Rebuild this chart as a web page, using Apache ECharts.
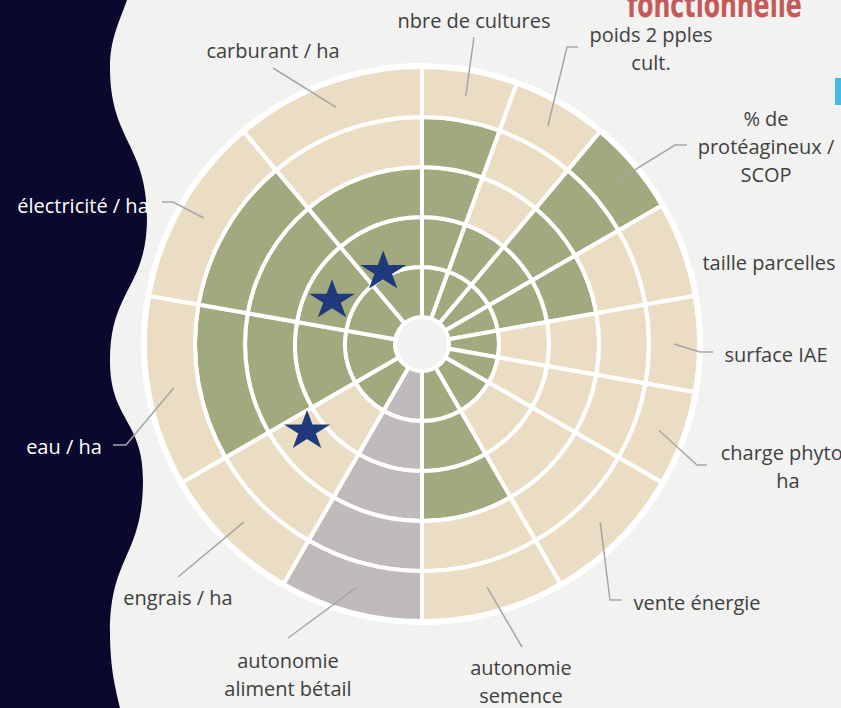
<!DOCTYPE html>
<html>
<head>
<meta charset="utf-8">
<title>Diagnostic</title>
<script src="https://cdn.jsdelivr.net/npm/echarts@6/dist/echarts.min.js"></script>
<style>
html, body { margin: 0; padding: 0; background: #f2f2f0; }
#chart { width: 841px; height: 708px; }
</style>
</head>
<body>
<div id="chart"></div>
<script>
// critères, dans le sens horaire depuis le haut
var categories = [
	'nbre de cultures',
	'poids 2 pples\ncult.',
	'% de\nprotéagineux /\nSCOP',
	'taille parcelles',
	'surface IAE',
	'charge phyto /\nha',
	'vente énergie',
	'autonomie\nsemence',
	'autonomie\naliment bétail',
	'engrais / ha',
	'eau / ha',
	'électricité / ha',
	'carburant / ha'
];
// bornes angulaires des secteurs (degrés)
var sectorStart = [0, 20, 40, 60, 80, 100, 120, 150, 180, 210, 240, 280, 320];
var sectorEnd   = [20, 40, 60, 80, 100, 120, 150, 180, 210, 240, 280, 320, 360];
// note sur 5 (null = non renseigné -> gris)
var scores = [4, 2, 5, 3, 1, 1, 1, 3, null, 1, 4, 4, 3];
// étoiles : rayon (note) et angle
var starRadius = [1.14, 1.48, 2.32];
var starAngle  = [332.5, 297, 233.5];

var maxScore = 5;

var colors = {
	ok: '#a3a97e',
	ko: '#ebddc4',
	na: '#c1baba',
	line: '#a6a6a6',
	text: '#404040',
	star: '#1e3a7a'
};

// placement des étiquettes + coude des traits de rappel
var labelLayout = [
	{ x: 474, y: 20, line: [[474, 37]] },
	{ x: 651, y: 48, line: [[578, 47], [567, 47]] },
	{ x: 766, y: 146, line: [[687, 145], [675, 145]] },
	{ x: 769, y: 262 },
	{ x: 776, y: 354, line: [[713, 352], [700, 352]] },
	{ x: 788, y: 466, line: [[707, 465], [697, 465]] },
	{ x: 697, y: 602, line: [[622, 600], [610, 600]] },
	{ x: 521, y: 681, line: [[522, 647]] },
	{ x: 288, y: 674, line: [[288, 638]] },
	{ x: 178, y: 597, line: [[178, 577]] },
	{ x: 64, y: 446, color: '#ffffff', line: [[113, 445], [126, 445]] },
	{ x: 83, y: 205, color: '#ffffff', line: [[162, 202], [173, 202]] },
	{ x: 273, y: 50, line: [[273, 68]] }
];

var wavePath = 'M0 0 L127 0 C118 25 110 40 110 68 C110 140 147 145 147 217 ' +
	'C147 289 110 289 110 361 C110 420 143 420 143 480 C143 556 110 556 110 632 ' +
	'C110 670 116 690 120 708 L0 708 Z';

var starPath = 'path://M50 0 L61.23 34.55 L97.55 34.55 L68.16 55.9 L79.39 90.45 L50 69.1 ' +
	'L20.61 90.45 L31.84 55.9 L2.45 34.55 L38.77 34.55 Z';

// titre coupé en haut à droite
var titleText = 'fonctionnelle';
var titleFont = 'bold 36px "DejaVu Sans Condensed", "DejaVu Sans", sans-serif';
var ctx = document.createElement('canvas').getContext('2d');
ctx.font = titleFont;
var titleScale = 175 / ctx.measureText(titleText).width;

var sectorData = categories.map(function (name, i) {
	return [sectorStart[i], sectorEnd[i], scores[i] == null ? -1 : scores[i]];
});
var starData = starRadius.map(function (r, i) {
	return [r, starAngle[i]];
});

function renderSector(params, api) {
	var i = params.dataIndex;
	var a0 = api.value(0), a1 = api.value(1), score = api.value(2);
	var cx = params.coordSys.cx, cy = params.coordSys.cy;

	function pt(r, a) {
		var p = api.coord([r, a]);
		var dx = p[0] - cx, dy = p[1] - cy;
		return { x: p[0], y: p[1], r: Math.sqrt(dx * dx + dy * dy), t: Math.atan2(dy, dx) };
	}
	function sweep(start, end) {
		var t1 = end.t;
		if (t1 <= start.t) t1 += Math.PI * 2;
		return t1;
	}

	var children = [];
	// fond blanc (bord extérieur)
	var b0 = pt(0, a0), b1 = pt(maxScore, a0);
	children.push({
		type: 'sector',
		shape: { cx: cx, cy: cy, r0: b0.r, r: b1.r + 4, startAngle: b0.t, endAngle: sweep(b0, pt(0, a1)), clockwise: true },
		style: { fill: '#ffffff' }
	});
	for (var k = 0; k < maxScore; k++) {
		var inner = pt(k, a0), outer = pt(k + 1, a0);
		var fill = score < 0 ? colors.na : (k < score ? colors.ok : colors.ko);
		children.push({
			type: 'sector',
			shape: { cx: cx, cy: cy, r0: inner.r, r: outer.r, startAngle: inner.t, endAngle: sweep(inner, pt(k, a1)), clockwise: true },
			style: { fill: fill, stroke: '#ffffff', lineWidth: 4 }
		});
	}

	var lay = labelLayout[i];
	if (lay.line) {
		var tip = pt(maxScore - 0.5, (a0 + a1) / 2);
		children.push({
			type: 'polyline',
			z2: 10,
			shape: { points: lay.line.concat([[tip.x, tip.y]]) },
			style: { stroke: colors.line, lineWidth: 1.5, fill: null }
		});
	}
	children.push({
		type: 'text',
		z2: 10,
		style: {
			text: categories[i],
			x: lay.x,
			y: lay.y,
			align: 'center',
			verticalAlign: 'middle',
			fill: lay.color || colors.text,
			font: '20px "Open Sans"',
			lineHeight: 28
		}
	});
	return { type: 'group', children: children };
}

var chart = echarts.init(document.getElementById('chart'), null, { renderer: 'svg' });

var option = {
	backgroundColor: '#f2f2f0',
	animation: false,
	polar: {
		center: [422, 344],
		radius: [27, 277]
	},
	angleAxis: {
		type: 'value',
		min: 0,
		max: 360,
		startAngle: 90,
		clockwise: true,
		show: false
	},
	radiusAxis: {
		type: 'value',
		min: 0,
		max: maxScore,
		show: false
	},
	graphic: [
		{
			type: 'text',
			x: 627,
			y: 4,
			scaleX: titleScale,
			style: {
				text: titleText,
				font: titleFont,
				fill: '#c55a5a',
				align: 'left',
				verticalAlign: 'middle'
			}
		},
		{
			type: 'rect',
			shape: { x: 835, y: 78, width: 10, height: 27 },
			style: { fill: '#4bb9dc' }
		}
	],
	series: [
		{
			type: 'custom',
			coordinateSystem: 'none',
			silent: true,
			z: 0,
			data: [0],
			renderItem: function () {
				return { type: 'path', shape: { pathData: wavePath }, style: { fill: '#0a082c' } };
			}
		},
		{
			type: 'custom',
			coordinateSystem: 'polar',
			silent: true,
			z: 2,
			encode: { angle: [0, 1], radius: 2 },
			data: sectorData,
			renderItem: renderSector
		},
		{
			type: 'scatter',
			coordinateSystem: 'polar',
			silent: true,
			z: 5,
			symbol: starPath,
			symbolSize: [46, 38],
			itemStyle: { color: colors.star, opacity: 1 },
			data: starData
		}
	]
};

chart.setOption(option);
window.onresize = chart.resize;
</script>
</body>
</html>
